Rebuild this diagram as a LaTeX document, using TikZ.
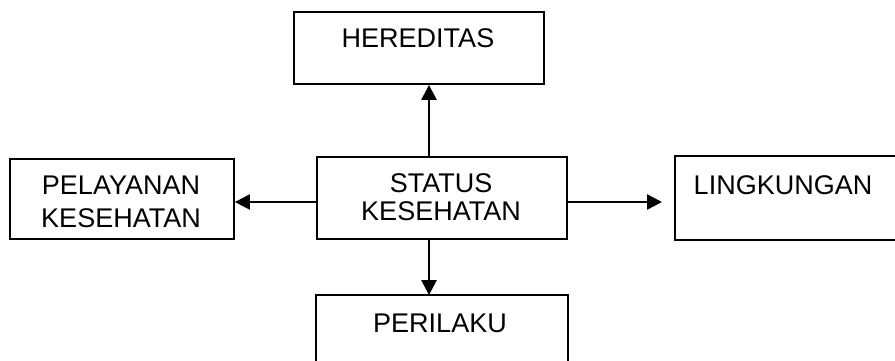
\documentclass[tikz,border=0pt]{standalone}
\usepackage{fontspec}
\setmainfont{Liberation Sans}
\usetikzlibrary{arrows.meta,positioning}
\tikzset{
    kotak/.style={rectangle,draw,line width=1.8pt,minimum width=#1,inner sep=0pt},
    tulisan/.style={inner sep=0pt,align=center,font=\fontsize{27}{#1}\selectfont},
    panah/.style={-{Triangle[length=15pt,width=15pt]},line width=2.4pt},
}
\begin{document}
\begin{tikzpicture}[x=1pt,y=-1pt]
\useasboundingbox (0,0) rectangle (895,360);

\node[kotak=250pt, minimum height=72pt] (hered) at (419,48) {};
\node[tulisan=30] (hered-t) at (418,38) {HEREDITAS};

\node[kotak=224pt, minimum height=80pt] (pelay) at (122,199) {};
\node[tulisan=33] (pelay-t) at (121,202) {PELAYANAN\\KESEHATAN};

\node[kotak=250pt, minimum height=82pt] (status) at (442,198) {};
\node[tulisan=28] (status-t) at (441,197) {STATUS\\KESEHATAN};

% box runs off the right edge
\node[kotak=300pt, minimum height=82pt, draw=none] (lingk) at (826,198) {};
\draw[line width=1.8pt] (lingk.north east) -- (lingk.north west) -- (lingk.south west) -- (lingk.south east);
\node[tulisan=30] (lingk-t) at (783,185) {LINGKUNGAN};

% box runs off the bottom edge
\node[kotak=250pt, minimum height=90pt, draw=none] (peril) at (442,341) {};
\draw[line width=1.8pt] (peril.south west) -- (peril.north west) -- (peril.north east) -- (peril.south east);
\node[tulisan=30] (peril-t) at (440,323) {PERILAKU};

\coordinate (lingk-tip) at (662,202);

\draw[panah] ([xshift=-13pt]status.north) -- ([xshift=-13pt]status.north |- hered.south);
\draw[panah] ([xshift=-13pt]status.south) -- ([xshift=-13pt]status.south |- peril.north);
\draw[panah] ([yshift=-4pt]status.west) -- ([yshift=-4pt]status.west -| pelay.east);
\draw[panah] ([yshift=-4pt]status.east) -- (lingk-tip);
\end{tikzpicture}
\end{document}
